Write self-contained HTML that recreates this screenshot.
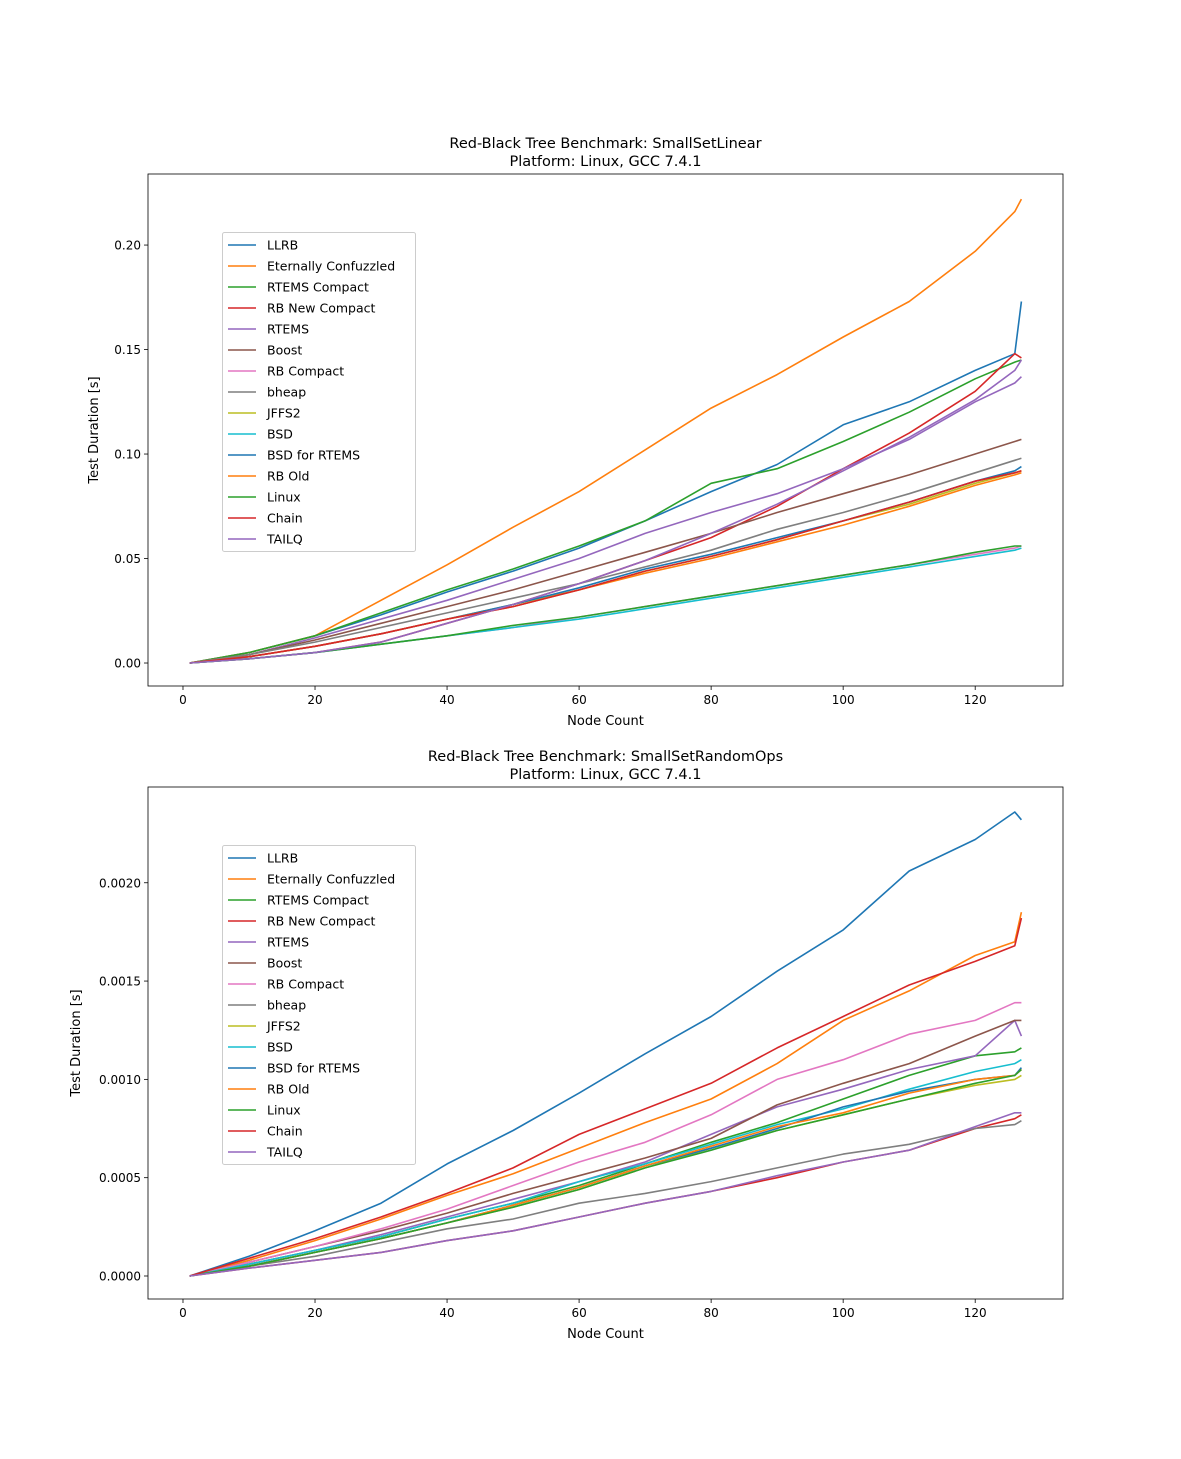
<!DOCTYPE html>
<html><head><meta charset="utf-8"><style>body{margin:0;background:#fff}svg{display:block;font-family:"DejaVu Sans","Liberation Sans",sans-serif}</style></head>
<body>
<svg id="fig" width="1181" height="1459" xmlns="http://www.w3.org/2000/svg"></svg>
<script>
const names=["LLRB","Eternally Confuzzled","RTEMS Compact","RB New Compact","RTEMS","Boost","RB Compact","bheap","JFFS2","BSD","BSD for RTEMS","RB Old","Linux","Chain","TAILQ"];
const colors=["#1f77b4","#ff7f0e","#2ca02c","#d62728","#9467bd","#8c564b","#e377c2","#7f7f7f","#bcbd22","#17becf","#1f77b4","#ff7f0e","#2ca02c","#d62728","#9467bd"];
const xs=[1,10,20,30,40,50,60,70,80,90,100,110,120,126,127];
const xTicks=[0,20,40,60,80,100,120];
const linearTicks=[0,0.05,0.10,0.15,0.20];
const linearTickLabels=["0.00","0.05","0.10","0.15","0.20"];
const randomTicks=[0,0.0005,0.0010,0.0015,0.0020];
const randomTickLabels=["0.0000","0.0005","0.0010","0.0015","0.0020"];
const linearData=[
[0,0.005,0.013,0.023,0.034,0.044,0.055,0.068,0.082,0.095,0.114,0.125,0.140,0.148,0.173],
[0,0.005,0.013,0.030,0.047,0.065,0.082,0.102,0.122,0.138,0.156,0.173,0.197,0.216,0.222],
[0,0.005,0.013,0.024,0.035,0.045,0.056,0.068,0.086,0.093,0.106,0.120,0.136,0.144,0.145],
[0,0.002,0.005,0.010,0.019,0.028,0.038,0.049,0.060,0.075,0.093,0.110,0.130,0.148,0.146],
[0,0.004,0.012,0.021,0.030,0.040,0.050,0.062,0.072,0.081,0.093,0.107,0.125,0.134,0.137],
[0,0.004,0.011,0.019,0.027,0.035,0.044,0.053,0.062,0.072,0.081,0.090,0.100,0.106,0.107],
[0,0.002,0.005,0.009,0.013,0.017,0.022,0.027,0.032,0.037,0.042,0.047,0.052,0.055,0.056],
[0,0.004,0.010,0.017,0.024,0.031,0.038,0.046,0.054,0.064,0.072,0.081,0.091,0.097,0.098],
[0,0.003,0.008,0.014,0.021,0.028,0.035,0.044,0.051,0.059,0.068,0.076,0.086,0.091,0.092],
[0,0.002,0.005,0.009,0.013,0.017,0.021,0.026,0.031,0.036,0.041,0.046,0.051,0.054,0.055],
[0,0.003,0.008,0.014,0.021,0.028,0.036,0.045,0.052,0.060,0.068,0.077,0.087,0.092,0.094],
[0,0.003,0.008,0.014,0.021,0.027,0.035,0.043,0.050,0.058,0.066,0.075,0.085,0.090,0.091],
[0,0.002,0.005,0.009,0.013,0.018,0.022,0.027,0.032,0.037,0.042,0.047,0.053,0.056,0.056],
[0,0.003,0.008,0.014,0.021,0.027,0.035,0.044,0.051,0.059,0.068,0.077,0.087,0.091,0.092],
[0,0.002,0.005,0.010,0.019,0.028,0.038,0.049,0.062,0.076,0.092,0.108,0.126,0.140,0.145]];
const randomData=[
[0,0.00010,0.00023,0.00037,0.00057,0.00074,0.00093,0.00113,0.00132,0.00155,0.00176,0.00206,0.00222,0.00236,0.00232],
[0,0.00008,0.00018,0.00029,0.00041,0.00052,0.00065,0.00078,0.00090,0.00108,0.00130,0.00145,0.00163,0.00170,0.00185],
[0,0.00006,0.00013,0.00020,0.00029,0.00037,0.00046,0.00057,0.00068,0.00078,0.00090,0.00102,0.00112,0.00114,0.00116],
[0,0.00004,0.00008,0.00012,0.00018,0.00023,0.00030,0.00037,0.00043,0.00050,0.00058,0.00064,0.00075,0.00080,0.00082],
[0,0.00006,0.00013,0.00021,0.00030,0.00039,0.00048,0.00058,0.00072,0.00086,0.00095,0.00105,0.00112,0.00130,0.00122],
[0,0.00007,0.00015,0.00023,0.00032,0.00042,0.00051,0.00060,0.00070,0.00087,0.00098,0.00108,0.00122,0.00130,0.00130],
[0,0.00007,0.00015,0.00024,0.00034,0.00046,0.00058,0.00068,0.00082,0.00100,0.00110,0.00123,0.00130,0.00139,0.00139],
[0,0.00005,0.00010,0.00017,0.00024,0.00029,0.00037,0.00042,0.00048,0.00055,0.00062,0.00067,0.00075,0.00077,0.00079],
[0,0.00005,0.00012,0.00019,0.00027,0.00035,0.00044,0.00055,0.00065,0.00074,0.00082,0.00090,0.00097,0.00100,0.00102],
[0,0.00006,0.00013,0.00020,0.00029,0.00037,0.00048,0.00057,0.00067,0.00077,0.00085,0.00095,0.00104,0.00108,0.00110],
[0,0.00005,0.00012,0.00019,0.00027,0.00036,0.00045,0.00056,0.00065,0.00075,0.00086,0.00094,0.00100,0.00102,0.00106],
[0,0.00005,0.00012,0.00019,0.00027,0.00036,0.00045,0.00056,0.00066,0.00076,0.00083,0.00093,0.00100,0.00102,0.00105],
[0,0.00005,0.00012,0.00019,0.00027,0.00035,0.00044,0.00055,0.00064,0.00074,0.00082,0.00090,0.00098,0.00102,0.00105],
[0,0.00009,0.00019,0.00030,0.00042,0.00055,0.00072,0.00085,0.00098,0.00116,0.00132,0.00148,0.00160,0.00168,0.00182],
[0,0.00004,0.00008,0.00012,0.00018,0.00023,0.00030,0.00037,0.00043,0.00051,0.00058,0.00064,0.00076,0.00083,0.00083]];
const NS="http://www.w3.org/2000/svg";
const svg=document.getElementById('fig');
function mk(tag,attrs,parent){const e=document.createElementNS(NS,tag);for(const k in attrs)e.setAttribute(k,attrs[k]);(parent||svg).appendChild(e);return e;}
function txt(x,y,s,anchor,size,parent){const t=mk('text',{x:x,y:y,'text-anchor':anchor,'font-size':size,fill:'#000'},parent);t.textContent=s;return t;}
function drawChart(key,top,title,data,ticks,tickLabels,yMin,yMax){
  const L=148,R=1063,T=top,B=top+512;
  const g=mk('g',{});
  
  
  const xMin=-5.3,xMax=133.3;
  const sx=v=>L+(v-xMin)/(xMax-xMin)*(R-L);
  const sy=v=>B-(v-yMin)/(yMax-yMin)*(B-T);
  const t1=txt((L+R)/2,T-26,title,'middle',14.5,g);
  
  
  const t2=txt((L+R)/2,T-8,'Platform: Linux, GCC 7.4.1','middle',14.5,g);
  
  
  xTicks.forEach(v=>{const x=sx(v);mk('line',{x1:x,x2:x,y1:B,y2:B+4,stroke:'#000','stroke-width':0.8},g);
    const l=txt(x,B+18,String(v),'middle',12,g);
    
    });
  ticks.forEach((v,i)=>{const y=sy(v);mk('line',{x1:L-4,x2:L,y1:y,y2:y,stroke:'#000','stroke-width':0.8},g);
    const l=txt(L-7,y+4.5,tickLabels[i],'end',12,g);
    
    });
  const xl=txt((L+R)/2,B+39,'Node Count','middle',13,g);
  
  
  const yl=txt(0,0,'Test Duration [s]','middle',13,g);
  yl.setAttribute('transform','translate('+(key==='linear'?98:80)+','+((T+B)/2)+') rotate(-90)');
  
  
  data.forEach((ser,i)=>{const p=mk('polyline',{points:ser.map((v,j)=>sx(xs[j]).toFixed(1)+','+sy(v).toFixed(1)).join(' '),fill:'none',stroke:colors[i],'stroke-width':1.6,'stroke-linejoin':'round'},g);
    
    });
  const fr=mk('rect',{x:L,y:T,width:R-L,height:B-T,fill:'none',stroke:'#000','stroke-width':0.8},g);
  
  
  const lg=mk('g',{},g);
  
  
  mk('rect',{x:222.5,y:T+58.5,width:193,height:319,fill:'#fff',stroke:'#ccc','stroke-width':1,rx:2},lg);
  names.forEach((n,i)=>{const y=T+71+i*21;
    mk('line',{x1:228,x2:256,y1:y,y2:y,stroke:colors[i],'stroke-width':1.6},lg);
    const e=txt(267,y+4.5,n,'start',12.5,lg);
    
    });
}
drawChart('linear',174,'Red-Black Tree Benchmark: SmallSetLinear',linearData,linearTicks,linearTickLabels,-0.011,0.234);
drawChart('random',787,'Red-Black Tree Benchmark: SmallSetRandomOps',randomData,randomTicks,randomTickLabels,-0.000117,0.002487);
</script>
</body></html>
